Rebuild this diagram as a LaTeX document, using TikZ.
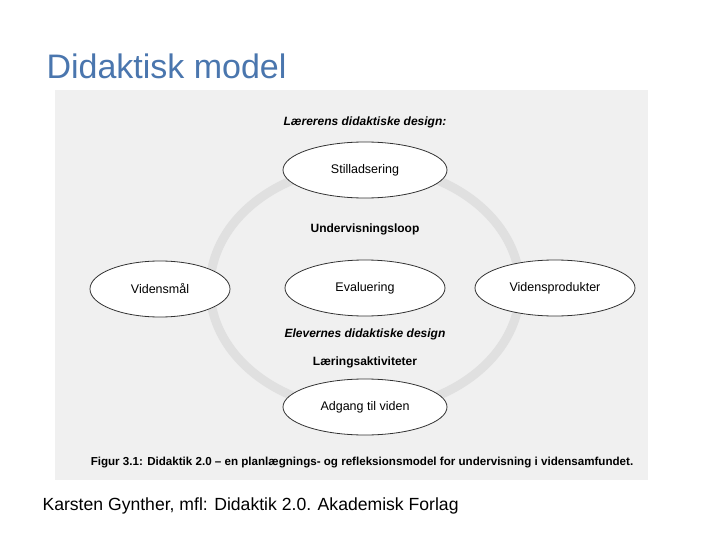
\documentclass[tikz,border=0pt]{standalone}
\usepackage{fontspec}
\usetikzlibrary{shapes.geometric}
\setmainfont{Liberation Sans}
\definecolor{titleblue}{HTML}{4A76AE}
\begin{document}
\begin{tikzpicture}[x=1pt,y=-1pt,
  oval/.style={draw=black!80,line width=0.8pt,fill=white,ellipse,minimum width=#1,minimum height=56pt,font=\fontsize{12.5}{14}\selectfont},
  lbl/.style={font=\bfseries\fontsize{12}{14}\selectfont},
  ilbl/.style={font=\bfseries\itshape\fontsize{12}{14}\selectfont}]
\useasboundingbox (0,0) rectangle (720,540);
\fill[white] (0,0) rectangle (720,540);
\fill[black!6] (55,90) rectangle (648,480);
\node[anchor=west,text=titleblue,font=\fontsize{34}{38}\selectfont] (title) at (43,66) {Didaktisk model};
\draw[black!12,line width=9pt] (365,288) ellipse [x radius=155, y radius=122];
\node[oval=164pt] (st) at (365,170) {Stilladsering};
\node[oval=160pt] (ev) at (365,288) {Evaluering};
\node[oval=140pt] (vm) at (160,289) {Vidensmål};
\node[oval=160pt] (vp) at (555,288) {Vidensprodukter};
\node[oval=164pt] (ag) at (365,407) {Adgang til viden};
\node[ilbl] (l1) at (365,122) {Lærerens didaktiske design:};
\node[lbl] (l2) at (365,229) {Undervisningsloop};
\node[ilbl] (l3) at (365,334) {Elevernes didaktiske design};
\node[lbl] (l4) at (365,362) {Læringsaktiviteter};
\node[font=\fontsize{11.6}{13}\selectfont] (cap) at (362,463) {\textbf{Figur 3.1: Didaktik 2.0 – en planlægnings- og refleksionsmodel for undervisning i vidensamfundet.}};
\node[anchor=west,font=\fontsize{17.6}{20}\selectfont] (foot) at (39,506) {Karsten Gynther, mfl: Didaktik 2.0. Akademisk Forlag};
\end{tikzpicture}
\end{document}
